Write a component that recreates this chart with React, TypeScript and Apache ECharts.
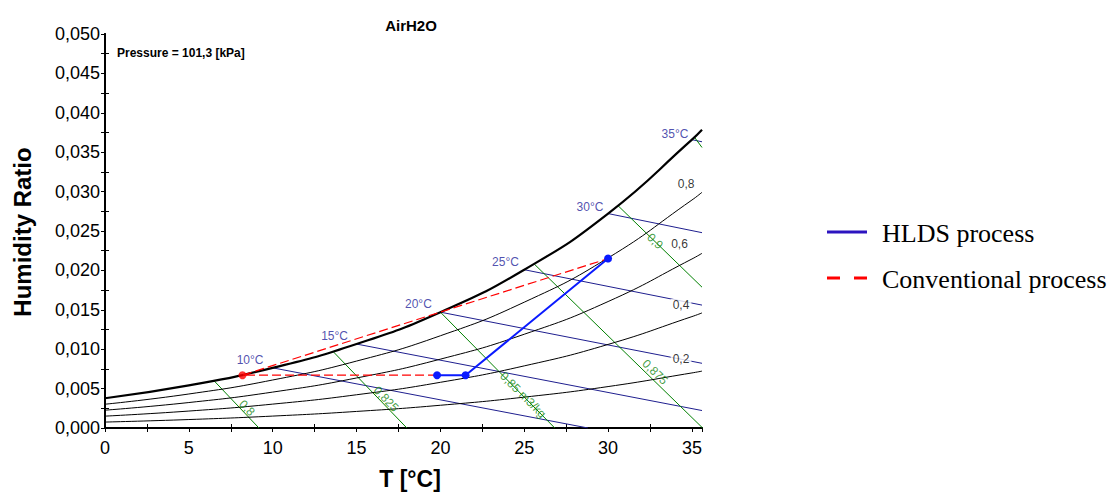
import React, { useEffect, useRef } from "react";
import * as echarts from "echarts";

// Temperatures (°C) at which the humidity-ratio curves were read
const tempsC = [0, 5, 10, 15, 20, 25, 30, 35, 35.6];
// Humidity ratio curves (kg/kg) for relative humidity 1.0 (saturation), 0.8, 0.6, 0.4, 0.2
const wSat = [0.003776, 0.005404, 0.007634, 0.010653, 0.014701, 0.020087, 0.027212, 0.03659, 0.037845];
const wRh80 = [0.003017, 0.004316, 0.006092, 0.008493, 0.011706, 0.015966, 0.021581, 0.028931, 0.029912];
const wRh60 = [0.00226, 0.003232, 0.004558, 0.006348, 0.008738, 0.011898, 0.016047, 0.021449, 0.022168];
const wRh40 = [0.001505, 0.002151, 0.003031, 0.004218, 0.005798, 0.007882, 0.010606, 0.014137, 0.014605];
const wRh20 = [0.000752, 0.001073, 0.001512, 0.002102, 0.002886, 0.003916, 0.005258, 0.006989, 0.007218];
const rhNames = ["0,8", "0,6", "0,4", "0,2"];
const rhLabelPos = [[34.65, 0.03096], [34.26, 0.02335], [34.35, 0.01561], [34.35, 0.00876]];

// Wet-bulb lines (start on saturation, end at edge)
const wbNames = ["10°C", "15°C", "20°C", "25°C", "30°C", "35°C"];
const wbStart = [[10, 0.007634], [15, 0.010653], [20, 0.014701], [25, 0.020087], [30, 0.027212], [35, 0.03659]];
const wbEnd = [[28.8, 0], [35.6, 0.002215], [35.6, 0.00821], [35.6, 0.015596], [35.6, 0.024789], [35.6, 0.036324]];
const wbLabelPos = [[8.65, 0.00863], [13.69, 0.01168], [18.69, 0.01574], [23.88, 0.02107], [28.92, 0.02805], [33.99, 0.03731]];

// Specific volume lines (m3/kg)
const volNames = ["0,8", "0,825", "0,85 m3/kg", "0,875", "0,9", ""];
const volStart = [[6.5, 0.006], [13.6, 0.00971], [20.0, 0.0147], [25.6, 0.0208], [30.6, 0.0282], [35.15, 0.0369]];
const volEnd = [[9.18, 0], [18.0, 0], [26.82, 0], [35.64, 0], [35.6, 0.01787], [35.6, 0.0356]];
const volLabelPos = [[8.47, 0.00254], [16.76, 0.00368], [24.93, 0.00419], [32.8, 0.0071], [32.8, 0.0237]];
const volLabelAngle = [-46, -46, -45, -44, -44];

// Processes
const hldsPoints = [[19.8, 0.0067], [21.5, 0.0067], [30.0, 0.0215]];
const conventionalPoints = [[19.8, 0.0067], [8.2, 0.0067], [30.0, 0.0215]];
const conventionalStart = [[8.2, 0.0067]];

const SANS = "'Liberation Sans', Arial, sans-serif";
const SERIF = "'Liberation Serif', 'Times New Roman', serif";
const NAVY = "#1f1f8f";
const GREEN = "#008000";

function pairs(xs: number[], ys: number[]) {
  return xs.map((x, i) => [x, ys[i]]);
}

export default function App() {
  const ref = useRef<HTMLDivElement>(null);
  useEffect(() => {
    if (!ref.current) return;
    const chart = echarts.init(ref.current, undefined, { renderer: "svg" });
    const curve = (name: string, ys: number[], width: number) => ({
      type: "line",
      name,
      data: pairs(tempsC, ys),
      smooth: 0.5,
      symbol: "none",
      silent: true,
      lineStyle: { color: "#000", width },
      z: 3,
    });
    const seg = (name: string, a: number[], b: number[], color: string) => ({
      type: "line",
      name,
      data: [a, b],
      symbol: "none",
      silent: true,
      lineStyle: { color, width: 1 },
      z: 2,
    });
    const series: any[] = [
      curve("sat", wSat, 2.2),
      curve("rh80", wRh80, 1),
      curve("rh60", wRh60, 1),
      curve("rh40", wRh40, 1),
      curve("rh20", wRh20, 1),
      ...wbStart.map((s, i) => seg("wb" + i, s, wbEnd[i], NAVY)),
      ...volStart.map((s, i) => seg("v" + i, s, volEnd[i], GREEN)),
      {
        type: "scatter",
        name: "rhLabels",
        silent: true,
        symbolSize: 0,
        z: 6,
        data: rhLabelPos.map((p, i) => ({ value: p, name: rhNames[i] })),
        label: {
          show: true,
          position: "inside",
          formatter: "{b}",
          color: "#000",
          fontSize: 12,
          fontFamily: SANS,
          backgroundColor: "#fff",
          padding: [0, 2],
        },
      },
      {
        type: "scatter",
        name: "wbLabels",
        silent: true,
        symbolSize: 0,
        z: 6,
        data: wbLabelPos.map((p, i) => ({ value: p, name: wbNames[i] })),
        label: {
          show: true,
          position: "inside",
          formatter: "{b}",
          color: "#24249a",
          fontSize: 12,
          fontFamily: SANS,
        },
      },
      {
        type: "scatter",
        name: "volLabels",
        silent: true,
        symbolSize: 0,
        z: 6,
        data: volLabelPos.map((p, i) => ({
          value: p,
          name: volNames[i],
          label: { rotate: volLabelAngle[i] },
        })),
        label: {
          show: true,
          position: "inside",
          formatter: "{b}",
          color: "#118811",
          fontSize: 12,
          fontFamily: SANS,
        },
      },
      {
        type: "line",
        name: "Conventional process",
        data: conventionalPoints,
        symbol: "none",
        silent: true,
        lineStyle: { color: "#ff0000", width: 1.2, type: [9, 4] },
        z: 7,
      },
      {
        type: "scatter",
        name: "convStart",
        data: conventionalStart,
        symbolSize: 8,
        silent: true,
        itemStyle: { color: "#ff0000" },
        z: 8,
      },
      {
        type: "line",
        name: "HLDS process",
        data: hldsPoints,
        symbol: "circle",
        symbolSize: 8,
        showSymbol: true,
        silent: true,
        itemStyle: { color: "#0a1aff" },
        lineStyle: { color: "#0a1aff", width: 2 },
        z: 9,
      },
    ];

    const axisLineStyle = { show: true, lineStyle: { color: "#000", width: 2 } };
    chart.setOption({
      animation: false,
      backgroundColor: "#fff",
      title: {
        text: "AirH2O",
        left: 406,
        top: 13,
        textAlign: "center",
        textStyle: { fontFamily: SANS, fontSize: 15, fontWeight: "bold", color: "#000" },
      },
      grid: { left: 105, top: 34, width: 597, height: 394, containLabel: false },
      xAxis: [
        {
          type: "value",
          min: 0,
          max: 35.6,
          interval: 5,
          position: "bottom",
          axisLine: axisLineStyle,
          axisTick: { show: true, inside: false, length: 4, lineStyle: { color: "#000" } },
          minorTick: { show: true, splitNumber: 2, length: -4, lineStyle: { color: "#000" } },
          splitLine: { show: false },
          axisLabel: {
            margin: 11,
            fontSize: 18,
            fontFamily: SANS,
            color: "#000",
            formatter: (v: number) => (Math.abs(v % 5) < 1e-9 ? String(v) : ""),
          },
        },
        {
          type: "value",
          min: 0,
          max: 35.6,
          interval: 5,
          position: "top",
          axisLine: axisLineStyle,
          axisTick: { show: true, inside: true, length: 4, lineStyle: { color: "#000" } },
          minorTick: { show: true, splitNumber: 2, length: 4, lineStyle: { color: "#000" } },
          splitLine: { show: false },
          axisLabel: { show: false },
        },
      ],
      yAxis: [
        {
          type: "value",
          min: 0,
          max: 0.05,
          interval: 0.005,
          position: "left",
          axisLine: axisLineStyle,
          axisTick: { show: true, inside: false, length: 4, lineStyle: { color: "#000" } },
          minorTick: { show: true, splitNumber: 2, length: -4, lineStyle: { color: "#000" } },
          splitLine: { show: false },
          axisLabel: {
            margin: 5,
            fontSize: 18,
            fontFamily: SANS,
            color: "#000",
            formatter: (v: number) => v.toFixed(3).replace(".", ","),
          },
        },
        {
          type: "value",
          min: 0,
          max: 0.05,
          interval: 0.005,
          position: "right",
          axisLine: axisLineStyle,
          axisTick: { show: true, inside: true, length: 4, lineStyle: { color: "#000" } },
          minorTick: { show: true, splitNumber: 2, length: 4, lineStyle: { color: "#000" } },
          splitLine: { show: false },
          axisLabel: { show: false },
        },
      ],
      graphic: [
        {
          type: "text",
          x: 117,
          y: 53,
          style: {
            text: "Pressure = 101,3 [kPa]",
            font: `bold 12px ${SANS}`,
            fill: "#000",
            align: "left",
            verticalAlign: "middle",
          },
          z: 10,
        },
        {
          type: "text",
          x: 410,
          y: 479,
          style: {
            text: "T [°C]",
            font: `bold 23px ${SANS}`,
            fill: "#000",
            align: "center",
            verticalAlign: "middle",
          },
        },
        {
          type: "text",
          x: 22,
          y: 232,
          rotation: Math.PI / 2,
          style: {
            text: "Humidity Ratio",
            font: `bold 24px ${SANS}`,
            fill: "#000",
            align: "center",
            verticalAlign: "middle",
          },
        },
        {
          type: "line",
          shape: { x1: 827, y1: 232, x2: 867, y2: 232 },
          style: { stroke: "#2c14c0", lineWidth: 3 },
        },
        {
          type: "text",
          x: 882,
          y: 233,
          style: {
            text: "HLDS process",
            font: `26px ${SERIF}`,
            fill: "#000",
            align: "left",
            verticalAlign: "middle",
          },
        },
        {
          type: "line",
          shape: { x1: 827, y1: 278, x2: 867, y2: 278 },
          style: { stroke: "#ff0000", lineWidth: 3, lineDash: [13, 14] },
        },
        {
          type: "text",
          x: 882,
          y: 279,
          style: {
            text: "Conventional process",
            font: `26px ${SERIF}`,
            fill: "#000",
            align: "left",
            verticalAlign: "middle",
          },
        },
      ],
      series,
    });
    return () => chart.dispose();
  }, []);
  return (
    <div
      ref={ref}
      style={{ position: "absolute", left: 0, top: 0, width: 1118, height: 492, background: "#fff" }}
    />
  );
}
